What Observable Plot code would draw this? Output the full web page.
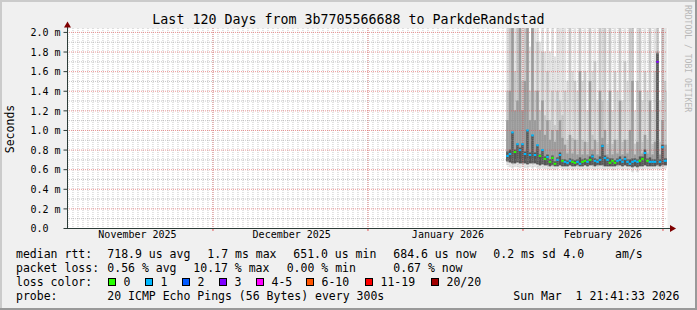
<!DOCTYPE html>
<html><head><meta charset="utf-8">
<script src="https://cdn.jsdelivr.net/npm/d3@7"></script>
<script src="https://cdn.jsdelivr.net/npm/@observablehq/plot@0.6"></script>
<style>
body{margin:0;background:#f0f0f0}
#wrap{position:relative;width:697px;height:310px;overflow:hidden}
</style></head><body><div id="wrap"></div>
<script>
// ---------- text ----------
const title = "Last 120 Days from 3b7705566688 to ParkdeRandstad";
const unitLabel = "Seconds";
const watermark = "RRDTOOL / TOBI OETIKER";

// ---------- time frame ----------
const rangeStart = "2025-11-01T21:41:33Z";
const rangeEnd = "2026-03-01T21:41:33Z";
const seriesStart = "2026-01-28T18:00:00Z";
const stepHours = 12;

// ---------- series (values in ms, shown as "m") ----------
const median = [0.74,0.76,0.98,0.78,0.86,0.80,0.86,0.76,1.00,0.75,0.95,0.75,0.85,0.74,0.80,0.71,0.73,0.68,0.72,0.66,0.70,0.75,0.69,
  0.68,0.67,0.69,0.68,0.67,0.68,0.66,0.68,0.69,0.68,0.70,0.735,0.69,0.68,0.70,0.84,0.72,0.70,0.67,0.69,
  0.67,0.69,0.70,0.68,0.71,0.68,0.66,0.68,0.69,0.68,0.69,0.71,0.77,0.69,0.68,0.68,0.68,1.70,0.68,0.83,0.69,0.69];
const loss = [1,1,1,0,1,1,1,1,1,1,1,1,1,0,1,0,1,0,0,0,1,1,0,
  1,1,1,0,0,1,1,0,0,1,0,1,1,1,1,1,1,1,0,0,
  0,1,1,1,1,1,1,1,1,1,0,0,1,0,1,1,1,3,1,1,1,1];
const pingMin = [0.64,0.62,0.61,0.62,0.62,0.61,0.62,0.61,0.61,0.62,0.61,0.62,0.61,0.60,0.61,0.60,0.60,0.59,0.60,0.59,0.60,0.61,0.60,
  0.60,0.59,0.60,0.59,0.60,0.60,0.59,0.60,0.60,0.59,0.60,0.60,0.59,0.60,0.60,0.60,0.59,0.60,0.60,0.59,
  0.59,0.60,0.60,0.59,0.60,0.59,0.60,0.57,0.60,0.57,0.60,0.59,0.60,0.60,0.59,0.60,0.60,0.60,0.59,0.60,0.60,0.61];
const pingLow = [0.68,0.67,0.66,0.66,0.67,0.66,0.66,0.66,0.65,0.66,0.66,0.66,0.65,0.64,0.65,0.64,0.64,0.63,0.64,0.63,0.63,0.64,0.63,
  0.63,0.63,0.64,0.63,0.63,0.64,0.63,0.63,0.64,0.63,0.64,0.64,0.63,0.64,0.64,0.64,0.63,0.63,0.63,0.63,
  0.63,0.64,0.64,0.63,0.64,0.63,0.63,0.62,0.63,0.62,0.63,0.63,0.64,0.63,0.63,0.63,0.63,0.64,0.63,0.64,0.64,0.64];
const smokeDark = [0.78,0.80,0.98,0.80,0.86,0.82,0.86,0.78,1.00,0.77,0.95,0.77,0.85,0.75,0.80,0.73,0.75,0.70,0.74,0.68,0.72,0.77,0.70,
  0.70,0.69,0.71,0.70,0.69,0.70,0.72,0.70,0.71,0.70,0.73,0.75,0.71,0.70,0.73,0.85,0.74,0.72,0.71,0.71,
  0.69,0.71,0.73,0.70,0.73,0.70,0.70,0.71,0.71,0.70,0.73,0.73,0.80,0.71,0.72,0.70,0.70,1.78,0.70,0.85,0.71,0.71];
const smokeMid = [1.10,1.40,2.10,1.20,1.30,2.10,1.20,1.50,2.10,1.10,2.10,1.10,1.40,1.00,1.30,0.95,1.10,0.90,1.00,0.88,1.00,1.10,0.92,
  0.85,0.76,0.95,0.76,0.90,0.75,1.60,0.75,0.88,0.75,1.50,0.80,0.90,0.75,1.40,0.92,1.00,0.75,1.40,0.75,
  0.90,0.76,1.30,0.75,0.90,0.76,1.00,1.50,0.75,0.88,1.40,0.76,0.95,0.76,1.30,0.75,0.88,1.80,0.75,1.10,0.85,0.85];
const smokeUpper = [1.40,2.10,2.10,1.60,2.10,2.10,1.50,2.10,2.10,1.40,2.10,1.40,1.90,1.20,1.80,1.15,1.60,1.10,1.40,1.05,1.40,1.30,1.15,
  1.40,0.90,2.10,0.92,1.50,0.90,2.10,0.90,1.60,0.88,2.10,0.95,1.70,0.88,2.10,1.30,2.10,0.86,2.10,0.86,
  1.60,0.90,2.10,0.88,1.70,0.90,2.10,2.10,0.86,1.50,2.10,0.88,1.60,0.90,2.10,0.86,1.60,2.10,0.88,2.10,1.50,1.40];
const pingMax = [2.10,2.10,2.10,2.10,2.10,2.10,2.10,1.95,2.10,1.85,2.10,2.10,2.10,1.90,2.10,1.80,2.10,1.80,2.10,1.75,2.10,2.10,2.10,
  2.10,1.50,2.10,1.60,2.10,1.40,2.10,1.50,2.10,1.20,2.10,1.60,2.10,1.30,2.10,2.10,2.10,1.30,2.10,1.20,
  2.10,1.40,2.10,1.30,2.10,1.50,2.10,2.10,1.20,2.10,2.10,1.30,2.10,1.40,2.10,1.20,2.10,2.10,1.30,2.10,2.10,2.10];

// ---------- axes ----------
const yMajorTicks = [0,0.2,0.4,0.6,0.8,1.0,1.2,1.4,1.6,1.8,2.0];
const yTickLabels = ["0.0","0.2 m","0.4 m","0.6 m","0.8 m","1.0 m","1.2 m","1.4 m","1.6 m","1.8 m","2.0 m"];
const yMinorTicks = [0.1,0.3,0.5,0.7,0.9,1.1,1.3,1.5,1.7,1.9];
const monthStarts = ["2025-12-01T00:00:00Z","2026-01-01T00:00:00Z","2026-02-01T00:00:00Z","2026-03-01T00:00:00Z"];
const monthLabels = ["November 2025","December 2025","January 2026","February 2026"];
const monthLabelDates = ["2025-11-15T21:40:00Z","2025-12-16T18:00:00Z","2026-01-17T00:00:00Z","2026-02-17T00:00:00Z"];

// ---------- legend ----------
const lossLabels = ["0","1","2","3","4-5","6-10","11-19","20/20"];
const lossColors = ["#26ff00","#00b8ff","#0059ff","#7e00ff","#ff00ff","#ff5500","#ff0000","#a10000"];
const lossBoxX = [108,145,182,219,256,306,365,431];
const legendRtt = [[16,"median rtt:"],[107.3,"718.9 us avg"],[207.3,"1.7 ms max"],[293.3,"651.0 us min"],[393.3,"684.6 us now"],[493.3,"0.2 ms sd"],[563.3,"4.0"],[615,"am/s"]];
const legendLoss = [[16,"packet loss:"],[107.3,"0.56 % avg"],[193.3,"10.17 % max"],[286.7,"0.00 % min"],[393.3,"0.67 % now"]];
const legendProbe = [[16,"probe:"],[107.3,"20 ICMP Echo Pings (56 Bytes) every 300s"],[513.3,"Sun Mar  1 21:41:33 2026"]];

// ---------- build ----------
const font = "DejaVu Sans Mono";
const x0 = new Date(rangeStart), x1 = new Date(rangeEnd);
const t0 = new Date(seriesStart);
const H12 = stepHours * 3600e3;
const rows = median.map((m, i) => ({
  t: new Date(+t0 + i * H12), t2: new Date(+t0 + (i + 1) * H12),
  med: m, loss: loss[i], min: pingMin[i], low: pingLow[i],
  dark: smokeDark[i], mid: smokeMid[i], up: smokeUpper[i], max: pingMax[i]
}));
const days = d3.utcDay.range(d3.utcDay.ceil(x0), x1);
const months = monthStarts.map(d => new Date(d));
const DAY = 864e5;
const axisColor = "#2c3c38";

const plot = Plot.plot({
  width: 697, height: 310,
  marginLeft: 67, marginRight: 30, marginTop: 28, marginBottom: 82,
  x: {type: "utc", domain: [x0, x1], axis: null},
  y: {domain: [0, 2.04], axis: null},
  color: {type: "identity"},
  style: {background: "#f0f0f0", fontFamily: font, overflow: "visible"},
  marks: [
    Plot.frame({fill: "#fff", stroke: "none"}),
    Plot.rect(rows, {x1: "t", x2: "t2", y1: "min", y2: "max", fill: "#e2e2e2", clip: true}),
    Plot.rect(rows, {x1: "t", x2: "t2", y1: "low", y2: "up", fill: "#c8c8c8", clip: true}),
    Plot.rect(rows, {x1: "t", x2: "t2", y1: "low", y2: "mid", fill: "#9c9c9c", clip: true}),
    Plot.rect(rows, {x1: "t", x2: "t2", y1: "low", y2: "dark", fill: "#555", clip: true}),
    Plot.ruleX(days, {stroke: "#8f8f8f", strokeOpacity: 0.5, strokeDasharray: "1,1"}),
    Plot.ruleY(yMinorTicks, {stroke: "#8f8f8f", strokeOpacity: 0.5, strokeDasharray: "1,1"}),
    Plot.ruleX(months, {stroke: "#e05050", strokeOpacity: 0.6, strokeDasharray: "1,1"}),
    Plot.ruleY(yMajorTicks.filter(v => v > 0), {stroke: "#e05050", strokeOpacity: 0.6, strokeDasharray: "1,1"}),
    Plot.ruleY(rows, {y: "med", x1: "t", x2: "t2", stroke: d => lossColors[d.loss], strokeWidth: 2, clip: true}),
    // axes
    Plot.ruleY(yMajorTicks, {y: d => d, x1: () => new Date(+x0 - 0.7 * DAY), x2: () => x0, stroke: axisColor}),
    Plot.ruleX(months, {x: d => d, y1: 0, y2: () => -0.03, stroke: "#e05050"}),
    Plot.ruleX([x0], {y1: 0, y2: 2.075, stroke: axisColor}),
    Plot.ruleY([0], {x1: () => x0, x2: () => new Date(+x1 + 0.8 * DAY), stroke: axisColor}),
    Plot.dot([{x: new Date(+x1 + 0.9 * DAY), y: 0}], {x: "x", y: "y", symbol: "triangle", rotate: 90, r: 2.6, fill: "#7f0000", stroke: "none"}),
    Plot.dot([{x: x0, y: 2.07}], {x: "x", y: "y", symbol: "triangle", r: 2.6, fill: "#7f0000", stroke: "none"}),
    Plot.text(yMajorTicks, {y: d => d, frameAnchor: "left", dx: -37, dy: 0.5, textAnchor: "start", text: (d, i) => yTickLabels[i], fontSize: 10, fill: "#000"}),
    Plot.text(monthLabelDates, {x: d => new Date(d), frameAnchor: "bottom", dy: 9.3, text: (d, i) => monthLabels[i], fontSize: 10, fill: "#000"})
  ]
});

const svg = d3.select(plot);
// shading border
svg.append("rect").attr("x", 0).attr("y", 0).attr("width", 697).attr("height", 2).attr("fill", "#cbcbcb");
svg.append("rect").attr("x", 0).attr("y", 0).attr("width", 2).attr("height", 310).attr("fill", "#cbcbcb");
svg.append("rect").attr("x", 0).attr("y", 308).attr("width", 697).attr("height", 2).attr("fill", "#999");
svg.append("rect").attr("x", 695).attr("y", 0).attr("width", 2).attr("height", 310).attr("fill", "#999");

const T = (x, y, s, size, extra = {}) => {
  const e = svg.append("text").attr("x", x).attr("y", y).text(s)
    .attr("font-family", font).attr("font-size", size).attr("fill", "#000")
    .attr("text-anchor", "start")
    .attr("xml:space", "preserve").style("white-space", "pre");
  for (const k in extra) e.attr(k, extra[k]);
  return e;
};
T(348.5, 23.6, title, 13.3, {"text-anchor": "middle"});
T(0, 0, unitLabel, 11.5, {"text-anchor": "middle", transform: "translate(13.5,129) rotate(-90)"});
T(0, 0, watermark, 8.1, {fill: "#b8b8b8", transform: "translate(685.3,5) rotate(90)"});

const L1 = 257.5, LS = 14.2;
legendRtt.forEach(([x, s]) => T(x, L1, s, 11.5));
legendLoss.forEach(([x, s]) => T(x, L1 + LS, s, 11.5));
T(16, L1 + 2 * LS, "loss color:", 11.5);
lossLabels.forEach((s, i) => {
  svg.append("rect").attr("x", lossBoxX[i] + 0.5).attr("y", 278.5).attr("width", 7).attr("height", 7)
    .attr("fill", lossColors[i]).attr("stroke", "#000").attr("stroke-width", 1);
  T(lossBoxX[i] + 15.5, L1 + 2 * LS, s, 11.5);
});
legendProbe.forEach(([x, s]) => T(x, L1 + 3 * LS, s, 11.5));

document.getElementById("wrap").appendChild(plot);
</script></body></html>
